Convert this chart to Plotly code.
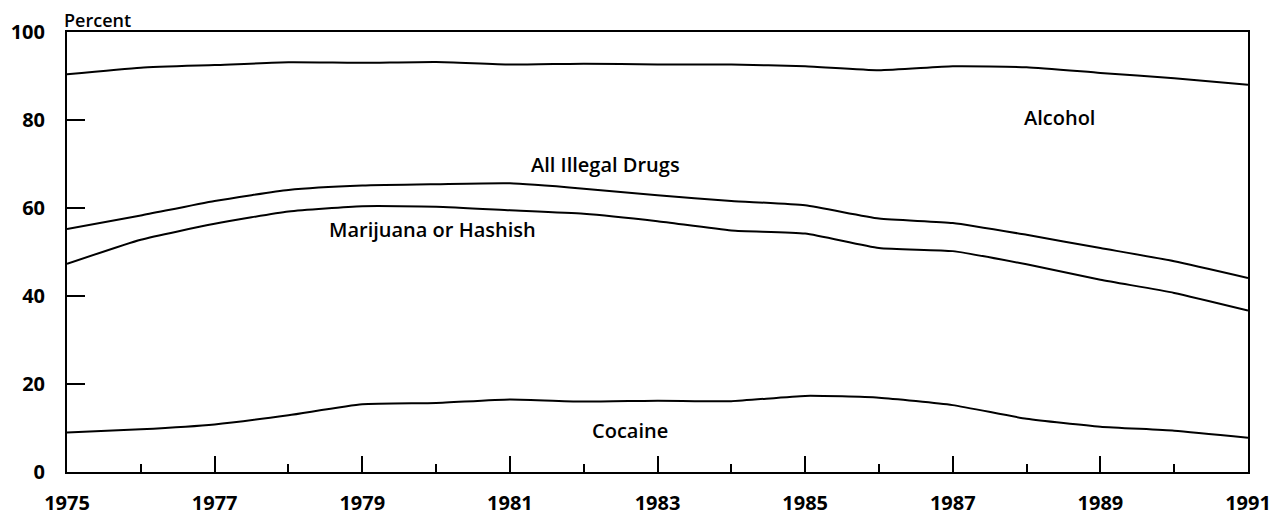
import plotly.graph_objects as go

years = list(range(1975, 1992))
alcohol = [90.4, 91.9, 92.5, 93.1, 93.0, 93.2, 92.6, 92.8, 92.6, 92.6, 92.2, 91.3, 92.2, 92.0, 90.7, 89.5, 88.0]
illegal = [55.2, 58.3, 61.6, 64.1, 65.1, 65.4, 65.6, 64.4, 62.9, 61.6, 60.6, 57.6, 56.6, 53.9, 50.9, 47.9, 44.1]
marijuana = [47.3, 52.8, 56.4, 59.2, 60.4, 60.3, 59.5, 58.7, 57.0, 54.9, 54.2, 50.9, 50.2, 47.2, 43.7, 40.7, 36.7]
cocaine = [9.0, 9.7, 10.8, 12.9, 15.4, 15.7, 16.5, 16.0, 16.2, 16.1, 17.3, 16.9, 15.2, 12.1, 10.3, 9.4, 7.8]

series = {"Alcohol": alcohol, "All Illegal Drugs": illegal,
          "Marijuana or Hashish": marijuana, "Cocaine": cocaine}

# label positions (x year, y percent)
labels = [("Alcohol", 1988.45, 80.5),
          ("All Illegal Drugs", 1982.3, 69.8),
          ("Marijuana or Hashish", 1979.95, 55.2),
          ("Cocaine", 1982.63, 9.5)]

fnt = "Open Sans"

fig = go.Figure()
for name, vals in series.items():
    fig.add_trace(go.Scatter(x=years, y=vals, mode='lines', name=name,
                             line=dict(color='black', width=2, shape='spline', smoothing=0.5)))

for txt, x, y in labels:
    fig.add_annotation(x=x, y=y, text=txt, showarrow=False,
                       font=dict(family=fnt, size=20, color='black', weight=600))

fig.add_annotation(x=0, y=1, xref='paper', yref='paper', xanchor='left', yanchor='bottom',
                   yshift=-1, xshift=-4, borderpad=0, text="Percent", showarrow=False,
                   font=dict(family=fnt, size=18, color='black', weight=600))

fig.update_xaxes(range=[1975, 1991], tick0=1975, dtick=2, ticks='inside', ticklen=16,
                 tickwidth=1.5, tickcolor='black', showline=True, linecolor='black',
                 linewidth=2, mirror=True, showgrid=False, zeroline=False,
                 ticklabelstandoff=12,
                 tickfont=dict(family=fnt, size=20, color='black', weight='bold'),
                 minor=dict(dtick=1, tick0=1975, ticks='inside', ticklen=8,
                            tickcolor='black', tickwidth=1.5, showgrid=False))
fig.update_yaxes(range=[0, 100], dtick=20, ticks='inside', ticklen=18, tickwidth=1.5,
                 tickcolor='black', showline=True, linecolor='black', linewidth=2,
                 mirror=True, showgrid=False, zeroline=False,
                 ticklabelstandoff=16,
                 tickfont=dict(family=fnt, size=20, color='black', weight='bold'))

# page body has an 8px margin, so shift the margins to keep the plot box in place
fig.update_layout(width=1281, height=514, showlegend=False,
                  plot_bgcolor='white', paper_bgcolor='white',
                  margin=dict(l=59, r=41, t=24, b=50, autoexpand=False))

fig.write_html("out.html")
